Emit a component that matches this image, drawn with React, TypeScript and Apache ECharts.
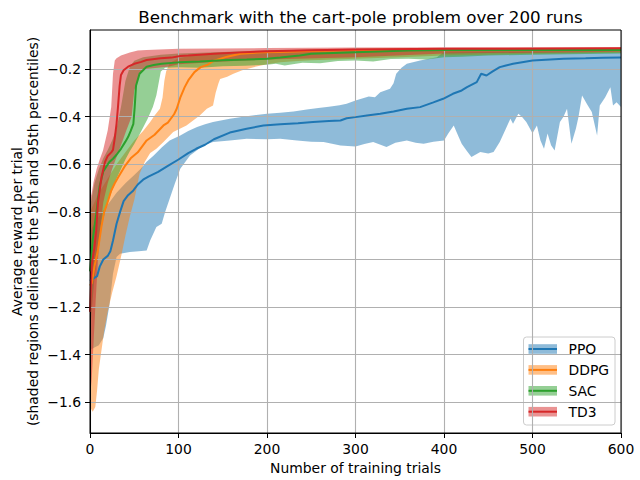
import React, { useEffect, useRef } from "react";
import * as echarts from "echarts";

const TITLE = "Benchmark with the cart-pole problem over 200 runs";
const X_LABEL = "Number of training trials";
const Y_LABEL = "Average reward per trial\n(shaded regions delineate the 5th and 95th percentiles)";
const Y_TICKS = [-1.6, -1.4, -1.2, -1.0, -0.8, -0.6, -0.4, -0.2];
const X_MIN = 0;
const X_MAX = 600;
const X_STEP = 100;
const Y_MIN = -1.729;
const Y_MAX = -0.036;

const ALGOS = ["PPO", "DDPG", "SAC", "TD3"];
const COLORS = ["#1f77b4", "#ff7f0e", "#2ca02c", "#d62728"];
const BAND_COLORS = [
  "rgba(31,119,180,0.5)",
  "rgba(255,127,14,0.5)",
  "rgba(44,160,44,0.5)",
  "rgba(214,39,40,0.5)",
];

// PPO
const ppoMean = [[0,-1.09],[4,-1.08],[8,-1.07],[11,-1.03],[15,-1.0],[20,-0.985],[23,-0.965],[26,-0.92],[30,-0.85],[34,-0.8],[38,-0.755],[43,-0.73],[49,-0.71],[54,-0.685],[60,-0.665],[66,-0.652],[77,-0.632],[88,-0.607],[100,-0.58],[111,-0.553],[120,-0.535],[130,-0.518],[140,-0.495],[158,-0.467],[177,-0.451],[196,-0.437],[215,-0.432],[235,-0.428],[252,-0.423],[270,-0.418],[283,-0.416],[290,-0.407],[300,-0.402],[313,-0.395],[328,-0.388],[343,-0.378],[358,-0.367],[373,-0.36],[388,-0.34],[399,-0.325],[410,-0.304],[420,-0.29],[426,-0.276],[437,-0.255],[442,-0.22],[448,-0.227],[455,-0.21],[463,-0.192],[470,-0.185],[478,-0.178],[490,-0.17],[500,-0.164],[520,-0.16],[535,-0.157],[560,-0.155],[580,-0.153],[600,-0.152]];
const ppoUpper = [[0,-0.88],[10,-0.82],[20,-0.77],[30,-0.72],[40,-0.68],[50,-0.645],[57,-0.62],[64,-0.59],[72,-0.563],[81,-0.53],[90,-0.5],[102,-0.479],[111,-0.46],[121,-0.444],[130,-0.432],[139,-0.423],[158,-0.409],[177,-0.398],[200,-0.388],[215,-0.384],[230,-0.378],[245,-0.37],[258,-0.364],[270,-0.358],[282,-0.352],[290,-0.346],[300,-0.332],[315,-0.315],[322,-0.318],[328,-0.297],[339,-0.283],[343,-0.26],[346,-0.22],[352,-0.195],[358,-0.178],[373,-0.164],[392,-0.15],[399,-0.13],[450,-0.128],[500,-0.128],[550,-0.127],[600,-0.127]];
const ppoLower = [[0,-1.38],[5,-1.37],[10,-1.36],[15,-1.33],[18,-1.28],[22,-1.19],[26,-1.06],[30,-0.99],[34,-0.976],[45,-0.969],[55,-0.965],[64,-0.962],[68,-0.92],[75,-0.864],[81,-0.85],[85,-0.8],[90,-0.745],[96,-0.68],[102,-0.619],[113,-0.563],[128,-0.521],[139,-0.507],[158,-0.5],[177,-0.493],[200,-0.495],[215,-0.493],[234,-0.5],[250,-0.505],[264,-0.507],[283,-0.521],[300,-0.525],[310,-0.515],[320,-0.507],[335,-0.528],[345,-0.51],[358,-0.5],[368,-0.51],[377,-0.514],[388,-0.505],[400,-0.5],[405,-0.47],[411,-0.437],[416,-0.48],[420,-0.514],[425,-0.54],[431,-0.57],[441,-0.549],[450,-0.555],[456,-0.549],[463,-0.507],[470,-0.45],[475,-0.409],[478,-0.43],[484,-0.388],[488,-0.4],[493,-0.423],[500,-0.47],[505,-0.437],[509,-0.5],[513,-0.535],[517,-0.471],[521,-0.52],[525,-0.542],[531,-0.423],[535,-0.4],[539,-0.367],[544,-0.514],[549,-0.451],[552,-0.4],[556,-0.311],[562,-0.35],[567,-0.381],[573,-0.479],[576,-0.353],[582,-0.32],[588,-0.276],[591,-0.353],[595,-0.34],[600,-0.36]];

// DDPG
const ddpgMean = [[0,-1.11],[2,-1.1],[5,-1.03],[9,-0.96],[13,-0.86],[16,-0.8],[19,-0.77],[24,-0.71],[28,-0.68],[32,-0.654],[39,-0.61],[46,-0.575],[54,-0.55],[64,-0.5],[73,-0.476],[83,-0.437],[88,-0.425],[95,-0.39],[98,-0.367],[102,-0.32],[107,-0.276],[111,-0.248],[118,-0.213],[125,-0.192],[133,-0.182],[140,-0.165],[155,-0.148],[170,-0.136],[196,-0.129],[215,-0.128],[250,-0.124],[300,-0.12],[400,-0.118],[500,-0.117],[600,-0.117]];
const ddpgUpper = [[0,-0.8],[5,-0.76],[10,-0.72],[15,-0.69],[20,-0.66],[30,-0.6],[40,-0.55],[50,-0.5],[60,-0.46],[68,-0.423],[73,-0.395],[79,-0.367],[82,-0.32],[84,-0.25],[86,-0.21],[90,-0.175],[100,-0.155],[120,-0.14],[150,-0.13],[200,-0.125],[300,-0.118],[600,-0.115]];
const ddpgLower = [[0,-1.62],[3,-1.64],[6,-1.62],[8,-1.55],[10,-1.46],[13,-1.38],[16,-1.3],[20,-1.22],[25,-1.14],[30,-1.07],[35,-0.99],[40,-0.9],[45,-0.82],[50,-0.75],[56,-0.64],[62,-0.59],[68,-0.553],[75,-0.535],[83,-0.507],[94,-0.465],[109,-0.437],[124,-0.395],[132,-0.367],[139,-0.353],[142,-0.3],[145,-0.262],[147,-0.242],[155,-0.232],[162,-0.22],[172,-0.205],[185,-0.192],[200,-0.18],[215,-0.172],[235,-0.166],[250,-0.163],[275,-0.16],[300,-0.157],[350,-0.15],[400,-0.143],[500,-0.136],[600,-0.132]];

// SAC
const sacMean = [[0,-1.05],[3,-0.92],[7,-0.81],[11,-0.69],[15,-0.63],[18,-0.612],[22,-0.59],[26,-0.577],[30,-0.56],[35,-0.535],[40,-0.505],[43,-0.486],[46,-0.46],[49,-0.43],[50.5,-0.36],[52,-0.27],[56,-0.22],[60,-0.205],[64,-0.19],[72,-0.183],[81,-0.178],[100,-0.172],[124,-0.168],[150,-0.163],[177,-0.16],[200,-0.157],[215,-0.152],[237,-0.143],[250,-0.136],[300,-0.129],[360,-0.122],[400,-0.12],[500,-0.12],[600,-0.12]];
const sacUpper = [[0,-0.78],[5,-0.68],[10,-0.62],[15,-0.575],[20,-0.54],[25,-0.5],[30,-0.45],[35,-0.36],[40,-0.25],[45,-0.19],[50,-0.165],[60,-0.15],[80,-0.14],[100,-0.135],[150,-0.128],[200,-0.122],[300,-0.115],[600,-0.113]];
const sacLower = [[0,-1.3],[5,-1.08],[10,-0.93],[15,-0.83],[20,-0.76],[25,-0.71],[30,-0.66],[35,-0.62],[40,-0.58],[45,-0.545],[50,-0.515],[58,-0.46],[65,-0.41],[71,-0.36],[75,-0.31],[78,-0.25],[80,-0.21],[85,-0.195],[100,-0.192],[124,-0.195],[150,-0.188],[175,-0.186],[200,-0.182],[210,-0.178],[220,-0.185],[240,-0.174],[260,-0.176],[280,-0.166],[300,-0.164],[320,-0.168],[340,-0.158],[360,-0.157],[380,-0.16],[400,-0.15],[420,-0.148],[450,-0.143],[500,-0.14],[600,-0.135]];

// TD3
const td3Mean = [[0,-1.22],[2,-1.02],[5,-0.95],[7,-0.88],[9,-0.76],[13,-0.655],[17,-0.59],[20,-0.565],[24,-0.55],[26,-0.54],[28,-0.49],[30,-0.43],[31.6,-0.36],[33.5,-0.27],[35,-0.225],[38,-0.205],[43,-0.19],[50,-0.178],[58,-0.17],[64,-0.162],[80,-0.155],[92,-0.152],[102,-0.145],[111,-0.143],[140,-0.136],[170,-0.13],[200,-0.125],[250,-0.121],[300,-0.118],[400,-0.115],[600,-0.113]];
const td3Upper = [[0,-0.75],[2,-0.72],[4,-0.675],[7.5,-0.62],[11,-0.58],[14.7,-0.542],[20,-0.458],[24,-0.36],[26,-0.22],[28,-0.164],[30,-0.155],[35,-0.143],[45,-0.13],[54,-0.122],[64,-0.12],[100,-0.115],[200,-0.112],[300,-0.11],[600,-0.108]];
const td3Lower = [[0,-1.58],[2,-1.5],[4,-1.35],[6,-1.2],[9,-1.0],[12,-0.86],[15,-0.76],[20,-0.68],[25,-0.62],[30,-0.57],[37,-0.5],[41,-0.458],[47,-0.4],[50,-0.29],[56,-0.22],[62,-0.2],[88,-0.19],[100,-0.18],[150,-0.168],[200,-0.16],[300,-0.15],[400,-0.135],[600,-0.127]];

const MEANS = [ppoMean, ddpgMean, sacMean, td3Mean];
const UPPERS = [ppoUpper, ddpgUpper, sacUpper, td3Upper];
const LOWERS = [ppoLower, ddpgLower, sacLower, td3Lower];

const FONT = "'DejaVu Sans', sans-serif";
const fmt = (v: number) => v.toFixed(1).replace("-", "\u2212");

function bandSeries(i: number) {
  const upper = UPPERS[i];
  const lower = LOWERS[i];
  return {
    type: "custom",
    name: ALGOS[i] + " band",
    z: 2,
    silent: true,
    clip: true,
    data: upper.concat(lower),
    encode: { x: 0, y: 1 },
    renderItem: (params: any, api: any) => {
      if (params.dataIndex !== 0) return null;
      const pts = upper
        .map((p) => api.coord(p))
        .concat(lower.slice().reverse().map((p) => api.coord(p)));
      return {
        type: "polygon",
        shape: { points: pts },
        style: { fill: BAND_COLORS[i], stroke: "none" },
      };
    },
  };
}

function lineSeries(i: number) {
  return {
    type: "line",
    name: ALGOS[i],
    z: 5,
    data: MEANS[i],
    showSymbol: false,
    symbol: "none",
    silent: true,
    lineStyle: { color: COLORS[i], width: 2 },
    itemStyle: { color: COLORS[i] },
  };
}

function legendGraphic() {
  const children: any[] = [
    {
      type: "rect",
      shape: { x: 523.5, y: 337, width: 91.5, height: 88, r: 3 },
      style: { fill: "rgba(255,255,255,0.8)", stroke: "#cccccc", lineWidth: 1 },
    },
  ];
  ALGOS.forEach((name, i) => {
    const cy = 349 + i * 20.9;
    children.push({
      type: "rect",
      shape: { x: 528.5, y: cy - 4.8, width: 28.5, height: 9.6 },
      style: { fill: BAND_COLORS[i] },
    });
    children.push({
      type: "line",
      shape: { x1: 528.5, y1: cy, x2: 557, y2: cy },
      style: { stroke: COLORS[i], lineWidth: 2 },
    });
    children.push({
      type: "text",
      x: 568.5,
      y: cy,
      style: {
        text: name,
        fill: "#000",
        font: "13.9px " + FONT,
        textAlign: "left",
        textVerticalAlign: "middle",
      },
    });
  });
  return { type: "group", z: 100, children };
}

export default function App() {
  const ref = useRef<HTMLDivElement>(null);
  useEffect(() => {
    if (!ref.current) return;
    const chart = echarts.init(ref.current, null, { renderer: "svg" });
    const option: any = {
      animation: false,
      backgroundColor: "#fff",
      textStyle: { fontFamily: FONT },
      title: {
        text: TITLE,
        left: 355.5,
        top: 3,
        textAlign: "center",
        textStyle: { fontFamily: FONT, fontSize: 16.7, fontWeight: "normal", color: "#000" },
      },
      grid: { left: 90, right: 19, top: 30, bottom: 47, containLabel: false, outerBoundsMode: "none" },
      xAxis: {
        type: "value",
        min: X_MIN,
        max: X_MAX,
        interval: X_STEP,
        z: 3,
        name: X_LABEL,
        nameLocation: "middle",
        nameGap: 26,
        nameTextStyle: { fontFamily: FONT, fontSize: 13.9, color: "#000" },
        axisLine: { show: true, onZero: false, lineStyle: { color: "#000", width: 1 } },
        axisTick: { show: true, inside: false, length: 5, lineStyle: { color: "#000", width: 1 } },
        axisLabel: { margin: 9, fontFamily: FONT, fontSize: 13.9, color: "#000" },
        splitLine: { show: true, lineStyle: { color: "#b0b0b0", width: 1.1 } },
      },
      yAxis: {
        type: "value",
        min: Y_MIN,
        max: Y_MAX,
        z: 3,
        axisLine: { show: true, onZero: false, lineStyle: { color: "#000", width: 1 } },
        axisTick: {
          show: true,
          inside: false,
          length: 5,
          customValues: Y_TICKS,
          lineStyle: { color: "#000", width: 1 },
        },
        axisLabel: {
          margin: 9,
          customValues: Y_TICKS,
          formatter: (v: number) => fmt(v),
          fontFamily: FONT,
          fontSize: 13.9,
          color: "#000",
        },
        splitLine: { show: true, lineStyle: { color: "#b0b0b0", width: 1.1 } },
      },
      graphic: [
        {
          type: "text",
          x: 25,
          y: 231.5,
          rotation: Math.PI / 2,
          z: 100,
          style: {
            text: Y_LABEL,
            fill: "#000",
            font: "13.9px " + FONT,
            textAlign: "center",
            textVerticalAlign: "middle",
            lineHeight: 16.5,
          },
        },
        {
          type: "rect",
          z: 100,
          shape: { x: 90, y: 30, width: 531, height: 403 },
          style: { fill: "none", stroke: "#000", lineWidth: 1 },
        },
        legendGraphic(),
      ],
      series: [
        ...ALGOS.map((_, i) => bandSeries(i)),
        ...ALGOS.map((_, i) => lineSeries(i)),
      ],
    };
    chart.setOption(option);
    return () => chart.dispose();
  }, []);
  return (
    <div
      ref={ref}
      style={{ position: "absolute", left: 0, top: 0, width: 640, height: 480 }}
    />
  );
}
